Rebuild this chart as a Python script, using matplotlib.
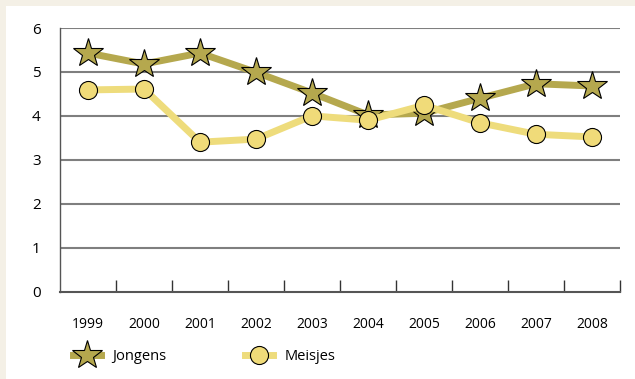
import matplotlib
matplotlib.use("Agg")
import matplotlib.pyplot as plt
from matplotlib.lines import Line2D
import matplotlib.patches as mpatches

years = ['1999', '2000', '2001', '2002', '2003', '2004', '2005', '2006', '2007', '2008']
jongens = [5.43, 5.18, 5.43, 4.99, 4.52, 4.02, 4.06, 4.40, 4.73, 4.68]
meisjes = [4.59, 4.61, 3.40, 3.47, 4.00, 3.90, 4.24, 3.84, 3.58, 3.52]

col_j = '#b5a84e'
col_m = '#eedc7c'
fill_m = '#f0db79'

plt.rcParams['font.family'] = ['Open Sans', 'DejaVu Sans']

fig = plt.figure(figsize=(6.35, 3.79), dpi=100)
fig.patch.set_facecolor('#f4f0e6')
# white inner panel
fig.patches.append(mpatches.Rectangle((6/635, 0), 1, 1 - 6/379, transform=fig.transFigure,
                                      facecolor='white', edgecolor='none', zorder=-5))

ax = fig.add_axes([60/635, (379-291.5)/379, 560/635, 263.5/379])
ax.set_facecolor('white')

x = list(range(len(years)))
ax.plot(x, jongens, color=col_j, lw=5, marker='*', ms=22, mfc=col_j, mec='black', mew=0.8, zorder=3,
        solid_capstyle='butt')
ax.plot(x, meisjes, color=col_m, lw=5, marker='o', ms=13, mfc=fill_m, mec='black', mew=0.8, zorder=4,
        solid_capstyle='butt')

ax.set_xlim(-0.5, len(years) - 0.5)
ax.set_ylim(0, 6)
ax.set_yticks(range(0, 7))
for yv in range(1, 7):
    ax.axhline(yv, color='#7f7f7f', lw=1.5, zorder=1)

ax.set_xticks([i + 0.5 for i in range(len(years))])
ax.set_xticklabels([])
ax.set_xticks(x, minor=True)
ax.set_xticklabels(years, minor=True)
ax.tick_params(axis='x', which='major', direction='in', length=9, width=1, color='#333333')
ax.tick_params(axis='x', which='minor', length=0, pad=18, labelsize=10)
ax.tick_params(axis='y', length=0, pad=14, labelsize=11)

for s in ['top', 'right']:
    ax.spines[s].set_visible(False)
ax.spines['left'].set_color('#555555')
ax.spines['bottom'].set_color('#555555')
ax.spines['left'].set_linewidth(1)
ax.spines['bottom'].set_linewidth(1.5)

handles = [
    Line2D([0], [0], color=col_j, lw=5, marker='*', ms=22, mfc=col_j, mec='black', mew=0.8),
    Line2D([0], [0], color=col_m, lw=5, marker='o', ms=13, mfc=fill_m, mec='black', mew=0.8),
]
fig.legend(handles, ['Jongens', 'Meisjes'], loc='center left', bbox_to_anchor=(60/635, 1 - 357/379),
           ncol=2, frameon=False, fontsize=10.5, handlelength=1.9, columnspacing=5.4, handletextpad=0.8)

fig.savefig('out.png', dpi=100, facecolor=fig.get_facecolor())
